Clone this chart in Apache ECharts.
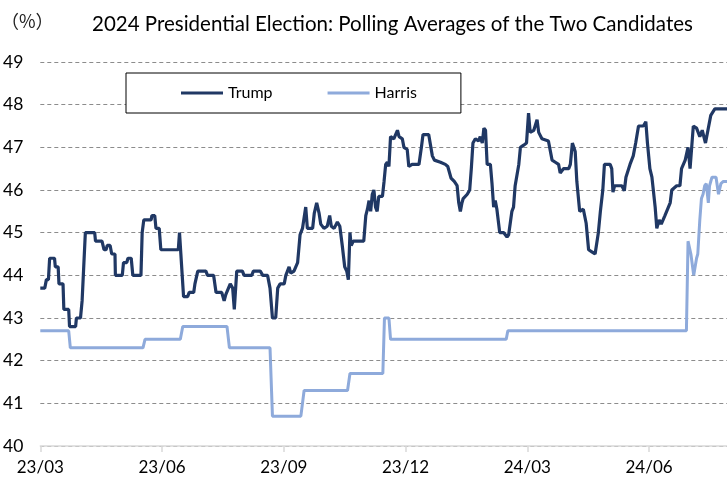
<!DOCTYPE html>
<html>
<head>
<meta charset="utf-8">
<script src="https://cdn.jsdelivr.net/npm/echarts@6/dist/echarts.min.js"></script>
<style>
  html, body { margin: 0; padding: 0; background: #fff; }
  #chart { width: 727px; height: 483px; }
</style>
</head>
<body>
<div id="chart"></div>
<script>
// Months elapsed since March 2023, and the polling average (%) at that point.
const tickLabels = ['23/03', '23/06', '23/09', '23/12', '24/03', '24/06'];
const tickMonths = [0, 3, 6, 9, 12, 15];
const lastMonth = 16.92;

const trump = [
  [0, 43.7], [0.11, 43.7], [0.15, 43.9], [0.20, 43.9], [0.23, 44.4], [0.35, 44.4],
  [0.37, 44.2], [0.44, 44.2], [0.46, 43.8], [0.56, 43.8], [0.58, 43.2], [0.70, 43.2],
  [0.72, 42.8], [0.87, 42.8], [0.89, 43.0], [0.99, 43.0], [1.03, 43.4], [1.11, 45.0],
  [1.34, 45.0], [1.36, 44.8], [1.52, 44.8], [1.57, 44.6], [1.62, 44.6], [1.65, 44.7],
  [1.72, 44.7], [1.76, 44.5], [1.84, 44.5], [1.85, 44.0], [2.02, 44.0], [2.05, 44.3],
  [2.13, 44.3], [2.16, 44.4], [2.24, 44.4], [2.28, 44.0], [2.48, 44.0], [2.51, 45.0],
  [2.55, 45.3], [2.73, 45.3], [2.75, 45.4], [2.82, 45.4], [2.85, 45.1], [2.93, 45.1],
  [2.97, 44.6], [3.40, 44.6], [3.43, 45.0], [3.53, 43.5], [3.63, 43.5], [3.67, 43.6],
  [3.78, 43.6], [3.81, 43.8], [3.88, 44.1], [4.08, 44.1], [4.12, 44.0], [4.27, 44.0],
  [4.33, 43.6], [4.47, 43.6], [4.53, 43.4], [4.57, 43.55], [4.68, 43.8], [4.74, 43.7],
  [4.78, 43.2], [4.84, 44.1], [4.98, 44.1], [5.02, 44.0], [5.21, 44.0], [5.25, 44.1],
  [5.42, 44.1], [5.48, 44.0], [5.60, 44.0], [5.66, 43.7], [5.72, 43.0], [5.80, 43.0],
  [5.85, 43.7], [5.91, 43.8], [6.01, 43.8], [6.05, 44.0], [6.13, 44.2], [6.17, 44.05],
  [6.25, 44.1], [6.34, 44.3], [6.40, 44.95], [6.46, 45.1], [6.54, 45.6], [6.58, 45.1],
  [6.71, 45.1], [6.75, 45.45], [6.81, 45.7], [6.87, 45.45], [6.91, 45.2], [6.99, 45.1],
  [7.07, 45.15], [7.13, 45.4], [7.17, 45.15], [7.24, 45.1], [7.32, 45.25], [7.38, 45.15],
  [7.44, 44.7], [7.50, 44.2], [7.55, 44.1], [7.59, 43.9], [7.63, 45.0], [7.66, 44.7],
  [7.71, 44.8], [7.97, 44.8], [8.02, 45.4], [8.06, 45.55], [8.10, 45.75], [8.14, 45.5],
  [8.18, 45.9], [8.22, 46.0], [8.26, 45.6], [8.30, 45.5], [8.34, 45.85], [8.43, 45.85],
  [8.47, 46.2], [8.51, 46.6], [8.55, 46.65], [8.59, 46.55], [8.63, 47.25], [8.71, 47.2],
  [8.80, 47.4], [8.84, 47.25], [8.92, 47.2], [8.96, 47.0], [9.04, 46.95], [9.08, 46.55],
  [9.16, 46.6], [9.33, 46.6], [9.39, 47.0], [9.43, 47.3], [9.57, 47.3], [9.66, 46.8],
  [9.71, 46.7], [9.86, 46.65], [9.98, 46.6], [10.04, 46.55], [10.12, 46.28], [10.20, 46.2],
  [10.27, 46.1], [10.31, 45.7], [10.35, 45.5], [10.39, 45.7], [10.42, 45.8], [10.52, 45.9],
  [10.58, 46.0], [10.62, 46.5], [10.66, 47.1], [10.72, 47.2], [10.80, 47.15], [10.84, 47.25],
  [10.89, 47.1], [10.93, 47.45], [10.97, 47.4], [11.01, 46.6], [11.09, 46.6], [11.13, 46.15],
  [11.17, 45.6], [11.21, 45.75], [11.25, 45.55], [11.32, 45.0], [11.42, 45.0], [11.50, 44.9],
  [11.54, 44.95], [11.62, 45.5], [11.66, 45.6], [11.70, 46.1], [11.79, 46.6], [11.83, 47.0],
  [11.91, 47.05], [11.98, 47.1], [12.03, 47.8], [12.07, 47.35], [12.16, 47.4], [12.24, 47.65],
  [12.28, 47.35], [12.36, 47.2], [12.52, 47.15], [12.61, 46.7], [12.69, 46.65], [12.77, 46.6],
  [12.81, 46.4], [12.89, 46.5], [13.02, 46.5], [13.06, 46.6], [13.11, 47.1], [13.18, 46.9],
  [13.22, 46.2], [13.29, 45.5], [13.38, 45.55], [13.45, 45.22], [13.51, 44.6], [13.59, 44.55],
  [13.67, 44.5], [13.75, 45.0], [13.80, 45.5], [13.86, 46.0], [13.90, 46.6], [14.04, 46.6],
  [14.08, 46.5], [14.11, 45.95], [14.15, 46.1], [14.33, 46.1], [14.39, 45.98], [14.43, 46.3],
  [14.53, 46.6], [14.61, 46.8], [14.67, 47.1], [14.74, 47.5], [14.86, 47.5], [14.92, 47.6],
  [14.96, 47.1], [15.02, 46.5], [15.07, 46.3], [15.15, 45.6], [15.19, 45.1], [15.25, 45.3],
  [15.30, 45.2], [15.39, 45.4], [15.52, 45.7], [15.56, 46.0], [15.68, 46.1], [15.76, 46.1],
  [15.80, 46.5], [15.89, 46.7], [15.96, 47.0], [16.01, 46.5], [16.09, 47.5], [16.17, 47.45],
  [16.25, 47.25], [16.31, 47.4], [16.39, 47.1], [16.45, 47.4], [16.52, 47.75], [16.62, 47.9],
  [16.92, 47.9]
];

const harris = [
  [0, 42.7], [0.70, 42.7], [0.74, 42.3], [2.53, 42.3], [2.58, 42.5], [3.45, 42.5],
  [3.51, 42.8], [4.60, 42.8], [4.66, 42.3], [5.66, 42.3], [5.72, 40.7], [6.42, 40.7],
  [6.50, 41.3], [7.57, 41.3], [7.63, 41.7], [8.44, 41.7], [8.48, 43.0], [8.59, 43.0],
  [8.63, 42.5], [11.48, 42.5], [11.52, 42.7], [15.92, 42.7], [15.96, 44.8], [16.03, 44.5],
  [16.10, 44.0], [16.17, 44.4], [16.20, 44.5], [16.25, 45.3], [16.29, 45.8], [16.33, 45.9],
  [16.37, 46.1], [16.41, 46.15], [16.46, 45.7], [16.49, 46.1], [16.55, 46.3], [16.65, 46.3],
  [16.71, 45.9], [16.77, 46.15], [16.83, 46.2], [16.92, 46.2]
];

const FONT = 'Lato';
const chart = echarts.init(document.getElementById('chart'), null, { renderer: 'canvas' });

chart.setOption({
  animation: false,
  backgroundColor: '#ffffff',
  textStyle: { fontFamily: FONT },
  title: {
    text: '2024 Presidential Election: Polling Averages of the Two Candidates',
    left: 87,
    top: 9,
    textStyle: { fontFamily: FONT, fontSize: 20.5, fontWeight: 'normal', color: '#000' }
  },
  graphic: [{
    type: 'text',
    left: 1,
    top: 12,
    style: { text: '（%）', fontFamily: 'Noto Sans CJK JP', fontSize: 18, fill: '#222' }
  }],
  legend: {
    left: 126,
    top: 73,
    padding: [12, 44, 12, 55],
    itemGap: 55,
    itemWidth: 42,
    itemHeight: 3,
    icon: 'rect',
    backgroundColor: '#ffffff',
    borderColor: '#000000',
    borderWidth: 1,
    textStyle: { fontFamily: FONT, fontSize: 16, color: '#000' },
    data: ['Trump', 'Harris']
  },
  grid: { left: 39, right: 0, top: 62, bottom: 37, containLabel: false },
  xAxis: {
    type: 'value',
    min: 0,
    max: lastMonth,
    axisLine: { show: true, lineStyle: { color: '#d9d9d9', width: 1.5 } },
    axisTick: { show: true, length: 6, customValues: tickMonths, lineStyle: { color: '#d9d9d9', width: 1.5 } },
    axisLabel: {
      customValues: tickMonths,
      margin: 13,
      fontFamily: FONT,
      fontSize: 17,
      color: '#000',
      formatter: v => tickLabels[Math.round(v / 3)] || ''
    },
    splitLine: { show: false }
  },
  yAxis: {
    type: 'value',
    min: 40,
    max: 49,
    interval: 1,
    axisLine: { show: false },
    axisTick: { show: false },
    axisLabel: { margin: 17, fontFamily: FONT, fontSize: 17.5, color: '#000' },
    splitLine: {
      show: true,
      lineStyle: { color: '#8c8c8c', type: [4, 3], width: 1 }
    }
  },
  series: [
    {
      name: 'Harris',
      type: 'line',
      data: harris,
      showSymbol: false,
      symbol: 'none',
      lineStyle: { color: '#8eaadb', width: 3 },
      itemStyle: { color: '#8eaadb' },
      z: 2
    },
    {
      name: 'Trump',
      type: 'line',
      data: trump,
      showSymbol: false,
      symbol: 'none',
      lineStyle: { color: '#203864', width: 3.2 },
      itemStyle: { color: '#203864' },
      z: 3
    }
  ]
});
</script>
</body>
</html>
